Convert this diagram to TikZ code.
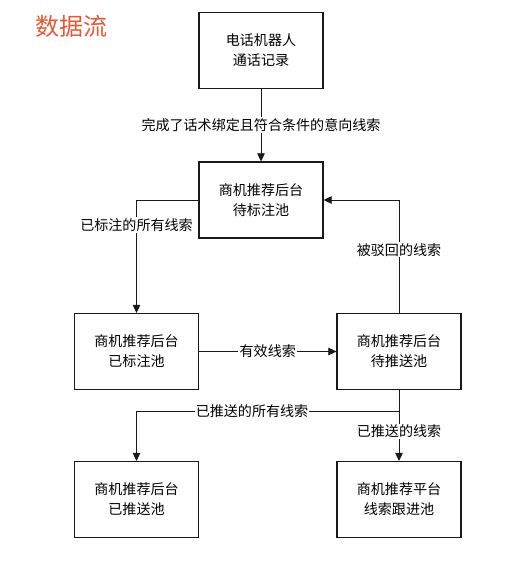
\documentclass[tikz,border=0pt]{standalone}
\usepackage{fontspec}
\newfontfamily\cjk{Noto Sans CJK SC}
\usepackage{tikz}
\usetikzlibrary{arrows.meta,positioning,calc}
\usepackage{xcolor}
\definecolor{titlered}{RGB}{232,88,52}
\definecolor{lineblack}{RGB}{25,25,25}

\tikzset{
  poolbox/.style={draw=lineblack,line width=0.9pt,fill=white,minimum width=3.72cm,
    minimum height=2.28cm,align=center,font=\cjk\fontsize{12}{17}\selectfont},
  flowline/.style={draw=lineblack,line width=0.8pt},
  flowarrow/.style={flowline,-{Triangle[length=7pt,width=6.5pt]}},
  flowlabel/.style={fill=white,inner sep=1pt,font=\cjk\fontsize{12}{14}\selectfont}
}

\begin{document}
\begin{tikzpicture}
    % ── Canvas (517 x 565 px, 1 px = 0.03 cm) ───────────────────────
    \useasboundingbox (0,0) rectangle (15.51,-16.95);

    % Title
    \node[anchor=west,text=titlered,font=\cjk\fontsize{20.5}{24}\selectfont]
      (title) at (0.95,-0.8) {数据流};

    % ── Pools ────────────────────────────────────────────────────────
    \node[poolbox] (robot)   at (7.83,-1.515)  {电话机器人\\通话记录};
    \node[poolbox] (tolabel) at (7.83,-6.0)    {商机推荐后台\\待标注池};
    \node[poolbox] (labeled) at (4.095,-10.545) {商机推荐后台\\已标注池};
    \node[poolbox] (topush)  at (11.97,-10.545) {商机推荐后台\\待推送池};
    \node[poolbox] (pushed)  at (4.095,-14.985) {商机推荐后台\\已推送池};
    \node[poolbox] (follow)  at (11.97,-14.985) {商机推荐平台\\线索跟进池};

    % ── Flows ────────────────────────────────────────────────────────
    \draw[flowarrow] (robot) -- (tolabel)
      node[midway,flowlabel]{完成了话术绑定且符合条件的意向线索};

    \draw[flowarrow] (tolabel.west) -| (labeled.north)
      node[pos=0.61,flowlabel]{已标注的所有线索};

    \draw[flowarrow] (labeled) -- (topush)
      node[midway,flowlabel]{有效线索};

    % rejected leads go back
    \draw[flowarrow] (topush.north) |- (tolabel.east)
      node[pos=0.28,flowlabel]{被驳回的线索};

    % pushed leads split into two pools
    \coordinate (split) at ($(topush.south)!0.3!(follow.north)$);
    \draw[flowarrow] (topush) -- (follow)
      node[pos=0.58,flowlabel]{已推送的线索};
    \draw[flowarrow] (split) -| (pushed.north)
      node[pos=0.28,flowlabel]{已推送的所有线索};
  \end{tikzpicture}
\end{document}
